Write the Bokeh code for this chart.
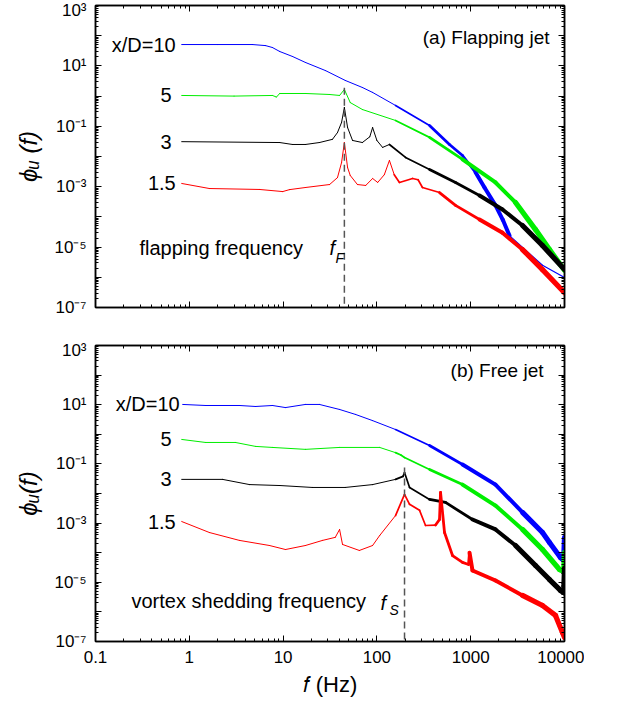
import numpy as np
from bokeh.plotting import figure
from bokeh.layouts import column
from bokeh.models import (FixedTicker, LogAxis, Label, CustomJSTickFormatter,
                          ColumnDataSource, Range1d)
from bokeh.embed import file_html
from bokeh.resources import INLINE

FONT = "Liberation Sans"

# ---------------- data: (a) flapping jet ----------------
a_f_10 = [0.83, 2.0, 4.7, 6.5, 7.7, 9.2, 12.6, 17.3, 28.3, 46, 70, 90, 158, 364,
          594, 818, 1125, 1403, 1838, 2200, 2592, 5824, 10000]
a_phi_10 = [51, 51, 51, 47, 40.6, 30, 20.5, 13, 7.0, 3.3, 1.93, 1.32, 0.49, 0.106,
            0.025, 0.0108, 0.003, 9.4e-4, 2.4e-4, 8e-5, 2.4e-5, 2.5e-6, 9.8e-7]

a_f_5 = [0.83, 3.0, 7.7, 8.5, 9.2, 17.3, 31.3, 40, 45, 52, 70, 158, 364, 818,
         1838, 3006, 4909, 6918, 10000]
a_phi_5 = [1.05, 1.0, 1.05, 0.93, 1.22, 1.22, 1.13, 1.05, 1.66, 0.61, 0.36, 0.156,
           0.043, 0.008, 0.00138, 3.0e-4, 3.8e-5, 8.3e-6, 1.7e-6]

a_f_3 = [0.83, 9.2, 12.6, 17.3, 24.4, 33.6, 38, 42, 45, 48.7, 55, 70, 84, 90, 100,
         115, 136, 202, 364, 689, 1241, 2182, 3567, 5824, 10000]
a_phi_3 = [0.031, 0.029, 0.025, 0.025, 0.029, 0.037, 0.062, 0.134, 0.42, 0.091,
           0.034, 0.029, 0.045, 0.091, 0.034, 0.020, 0.025, 0.0093, 0.0037,
           0.00138, 5.1e-4, 1.76e-4, 5.2e-5, 1.13e-5, 1.8e-6]

a_f_15 = [0.83, 1.64, 5.6, 9.9, 11.7, 17.3, 31.3, 38, 42, 45, 48.7, 52, 62, 76, 90,
          102, 120, 136, 153, 174, 240, 275, 306, 465, 689, 1241, 2182, 3567,
          5824, 10000]
a_phi_15 = [0.00128, 0.00087, 0.00081, 0.00069, 0.0008, 0.00094, 0.00118, 0.002,
            0.0063, 0.029, 0.0043, 0.00235, 0.00118, 0.0011, 0.00187, 0.00138,
            0.0025, 0.0074, 0.0025, 0.00138, 0.00187, 0.0017, 0.00094, 0.00064,
            2.4e-4, 8.2e-5, 3.0e-5, 8.3e-6, 1.8e-6, 3.1e-7]

# ---------------- data: (b) free jet ----------------
b_f_10 = [0.85, 1.49, 3.43, 5.08, 7.7, 10.6, 17.3, 24.4, 40, 59, 90, 158, 364, 818,
          1838, 3567, 5824, 6918, 9060, 9800, 10000]
b_phi_10 = [10.2, 9.4, 9.4, 8.7, 9.4, 8.0, 10.2, 10.2, 6.9, 4.7, 2.9, 1.45, 0.42,
            0.095, 0.020, 0.0023, 4.8e-4, 2.2e-4, 6.9e-5, 5.5e-5, 3.3e-4]

b_f_5 = [0.83, 1.49, 3.1, 5.08, 7.7, 17.3, 40, 107, 158, 180, 197, 364, 818, 1838,
         3567, 5824, 8845, 9800, 10000]
b_phi_5 = [0.67, 0.53, 0.53, 0.39, 0.36, 0.31, 0.36, 0.36, 0.24, 0.2, 0.164, 0.065,
           0.020, 0.0039, 6.1e-4, 1.28e-4, 2.7e-5, 2.3e-5, 1.0e-4]

b_f_3 = [0.83, 2.26, 4.39, 9.2, 20.5, 46, 90, 158, 190, 197, 223, 364, 539, 1045,
         1838, 3006, 4909, 6918, 9060, 9800, 10000]
b_phi_3 = [0.030, 0.030, 0.020, 0.0186, 0.016, 0.016, 0.020, 0.030, 0.038, 0.051,
           0.016, 0.0063, 0.0050, 0.00132, 6.1e-4, 1.75e-4, 3.7e-5, 1.24e-5,
           5.3e-6, 4.5e-6, 3.0e-5]

b_f_15 = [0.83, 1.64, 3.43, 7.16, 10.6, 17.3, 26.3, 36, 40, 43, 65, 90, 107, 158,
          197, 223, 285, 330, 422, 465, 477, 526, 640, 818, 948, 971, 1045, 1838,
          3567, 5824, 8014, 9510, 10000]
b_phi_15 = [0.00113, 4.8e-4, 2.6e-4, 1.75e-4, 1.28e-4, 1.75e-4, 2.6e-4, 3.3e-4,
            6.1e-4, 1.9e-4, 1.19e-4, 1.75e-4, 3.8e-4, 0.0018, 0.0093, 0.0043,
            0.0027, 8.3e-4, 8.6e-4, 0.00132, 0.0108, 4.8e-4, 8.0e-5, 4.7e-5,
            4.0e-5, 1.0e-4, 2.5e-5, 1.15e-5, 3.6e-6, 1.64e-6, 7.6e-7, 2.0e-7,
            1.36e-7]

series_labels = ["x/D=10", "5", "3", "1.5"]

flap_freq = 45
flap_top = 1.9
shed_freq = 197
shed_top = 0.076

x_major = [0.1, 1, 10, 100, 1000, 10000]
y_major = [10.0 ** e for e in range(-7, 4)]

# ---------------- style ----------------
COLORS = ["#0000ff", "#00ee00", "#000000", "#ff0000"]


def width_rule(f, thin_after=None):
    if thin_after is not None and f > thin_after:
        return 1.2
    if f < 150:
        return 1.0
    if f < 400:
        return 1.7
    if f < 1000:
        return 2.8
    if f < 3000:
        return 4.0
    return 5.2


def add_curve(p, f, phi, color, thin_after=None):
    n = len(f) - 1
    xs = [[f[i], f[i + 1]] for i in range(n)]
    ys = [[phi[i], phi[i + 1]] for i in range(n)]
    w = [width_rule(np.sqrt(f[i] * f[i + 1]), thin_after) for i in range(n)]
    src = ColumnDataSource(dict(xs=xs, ys=ys, w=w))
    p.multi_line("xs", "ys", source=src, line_color=color, line_width="w",
                 line_cap="round", line_join="round")


def minor_of(decades):
    out = []
    for d in decades[:-1]:
        out += [m * d for m in range(2, 10)]
    return out


x_fmt = CustomJSTickFormatter(code="""
    return tick < 1 ? tick.toFixed(1) : Math.round(tick).toString();
""")
y_fmt = CustomJSTickFormatter(code="""
    const e = Math.round(Math.log10(tick));
    if (Math.abs(e) % 2 == 0) return "";
    const sup = {"0":"\u2070","1":"\u00b9","2":"\u00b2","3":"\u00b3","4":"\u2074",
                 "5":"\u2075","6":"\u2076","7":"\u2077","8":"\u2078","9":"\u2079","-":"\u207b"};
    return "10" + String(e).split("").map(c => sup[c]).join("");
""")
empty_fmt = CustomJSTickFormatter(code="return '';")


def style_axis(ax, labels):
    ax.major_tick_in = 6
    ax.major_tick_out = 0
    ax.minor_tick_in = 3
    ax.minor_tick_out = 0
    ax.axis_line_width = 1.5
    ax.major_tick_line_width = 1
    ax.minor_tick_line_width = 1
    ax.major_label_text_font = FONT
    ax.major_label_text_font_size = "17px"
    ax.major_label_text_color = "black"
    ax.major_label_standoff = 9
    ax.axis_label_text_font = FONT
    ax.axis_label_text_color = "black"
    if not labels:
        ax.major_label_text_font_size = "0px"
        ax.major_label_standoff = 0


def make_fig(frame_h, border_bottom, x_labels, ytitle, xtitle=None):
    p = figure(x_axis_type="log", y_axis_type="log",
               x_range=Range1d(0.1, 10000), y_range=Range1d(1e-7, 1e3),
               frame_width=469, frame_height=frame_h,
               min_border_left=95, min_border_right=20, min_border_top=5,
               min_border_bottom=border_bottom,
               output_backend="svg", toolbar_location=None)
    p.grid.visible = False
    p.outline_line_color = "black"
    p.outline_line_width = 1.5
    p.background_fill_color = "white"
    p.border_fill_color = "white"
    xax = p.xaxis[0]
    yax = p.yaxis[0]
    xax.ticker = FixedTicker(ticks=x_major, minor_ticks=minor_of(x_major))
    yax.ticker = FixedTicker(ticks=y_major, minor_ticks=minor_of(y_major))
    xax.formatter = x_fmt if x_labels else empty_fmt
    yax.formatter = y_fmt
    style_axis(xax, x_labels)
    style_axis(yax, True)
    yax.axis_label = ytitle
    yax.axis_label_text_font_size = "24px"
    yax.axis_label_text_font_style = "italic"
    yax.axis_label_standoff = 10
    if xtitle:
        xax.axis_label = xtitle
        xax.axis_label_text_font_size = "22px"
        xax.axis_label_text_font_style = "normal"
        xax.axis_label_standoff = 6
    top = LogAxis(ticker=FixedTicker(ticks=x_major, minor_ticks=minor_of(x_major)),
                  formatter=empty_fmt)
    right = LogAxis(ticker=FixedTicker(ticks=y_major, minor_ticks=minor_of(y_major)),
                    formatter=empty_fmt)
    style_axis(top, False)
    style_axis(right, False)
    p.add_layout(top, "above")
    p.add_layout(right, "right")
    return p


def lab(p, text, x, y, xo, yo, size, align="left", style="normal"):
    p.add_layout(Label(x=x, y=y, x_offset=xo, y_offset=yo, text=text,
                       text_font=FONT, text_font_size=f"{size}px",
                       text_align=align, text_baseline="middle",
                       text_font_style=style, text_color="black"))


# ---------------- panel (a) ----------------
p1 = make_fig(302, 33, False, "\u03d5\u1d64 (f)")
a_sets = [(a_f_10, a_phi_10), (a_f_5, a_phi_5), (a_f_3, a_phi_3), (a_f_15, a_phi_15)]
for i, (f, phi) in enumerate(a_sets):
    add_curve(p1, f, phi, COLORS[i], thin_after=2600 if i == 0 else None)
p1.segment(x0=[flap_freq], y0=[flap_top], x1=[flap_freq], y1=[1e-7],
           line_color="#555555", line_width=1.5, line_dash="7 4")
a_label_dx = [-6, -10, -10, -6]
for i, (f, phi) in enumerate(a_sets):
    lab(p1, series_labels[i], f[0], phi[0], a_label_dx[i], 0, 20, align="right")
lab(p1, "(a) Flapping jet", 10000, 1e3, -15, -32, 19, align="right")
lab(p1, "flapping frequency", 0.1, 1e-7, 44, 60, 20)
lab(p1, "f", 0.1, 1e-7, 234, 60, 20, style="italic")
lab(p1, "F", 0.1, 1e-7, 240, 50, 14, style="italic")

# ---------------- panel (b) ----------------
p2 = make_fig(296, 56, True, "\u03d5\u1d64(f)", "\U0001d453 (Hz)")
b_sets = [(b_f_10, b_phi_10), (b_f_5, b_phi_5), (b_f_3, b_phi_3), (b_f_15, b_phi_15)]
for i, (f, phi) in enumerate(b_sets):
    add_curve(p2, f, phi, COLORS[i])
p2.segment(x0=[shed_freq], y0=[shed_top], x1=[shed_freq], y1=[1e-7],
           line_color="#555555", line_width=1.5, line_dash="7 4")
b_label_dx = [-3, -10, -10, -6]
for i, (f, phi) in enumerate(b_sets):
    lab(p2, series_labels[i], f[0], phi[0], b_label_dx[i], 0, 20, align="right")
lab(p2, "(b) Free jet", 10000, 1e3, -21, -25, 19, align="right")
lab(p2, "vortex shedding frequency", 0.1, 1e-7, 36, 41, 20)
lab(p2, "f", 0.1, 1e-7, 285, 39, 20, style="italic")
lab(p2, "S", 0.1, 1e-7, 294, 32, 14, style="italic")

layout = column(p1, p2, spacing=0)
open("out.html", "w").write(file_html(layout, INLINE))
